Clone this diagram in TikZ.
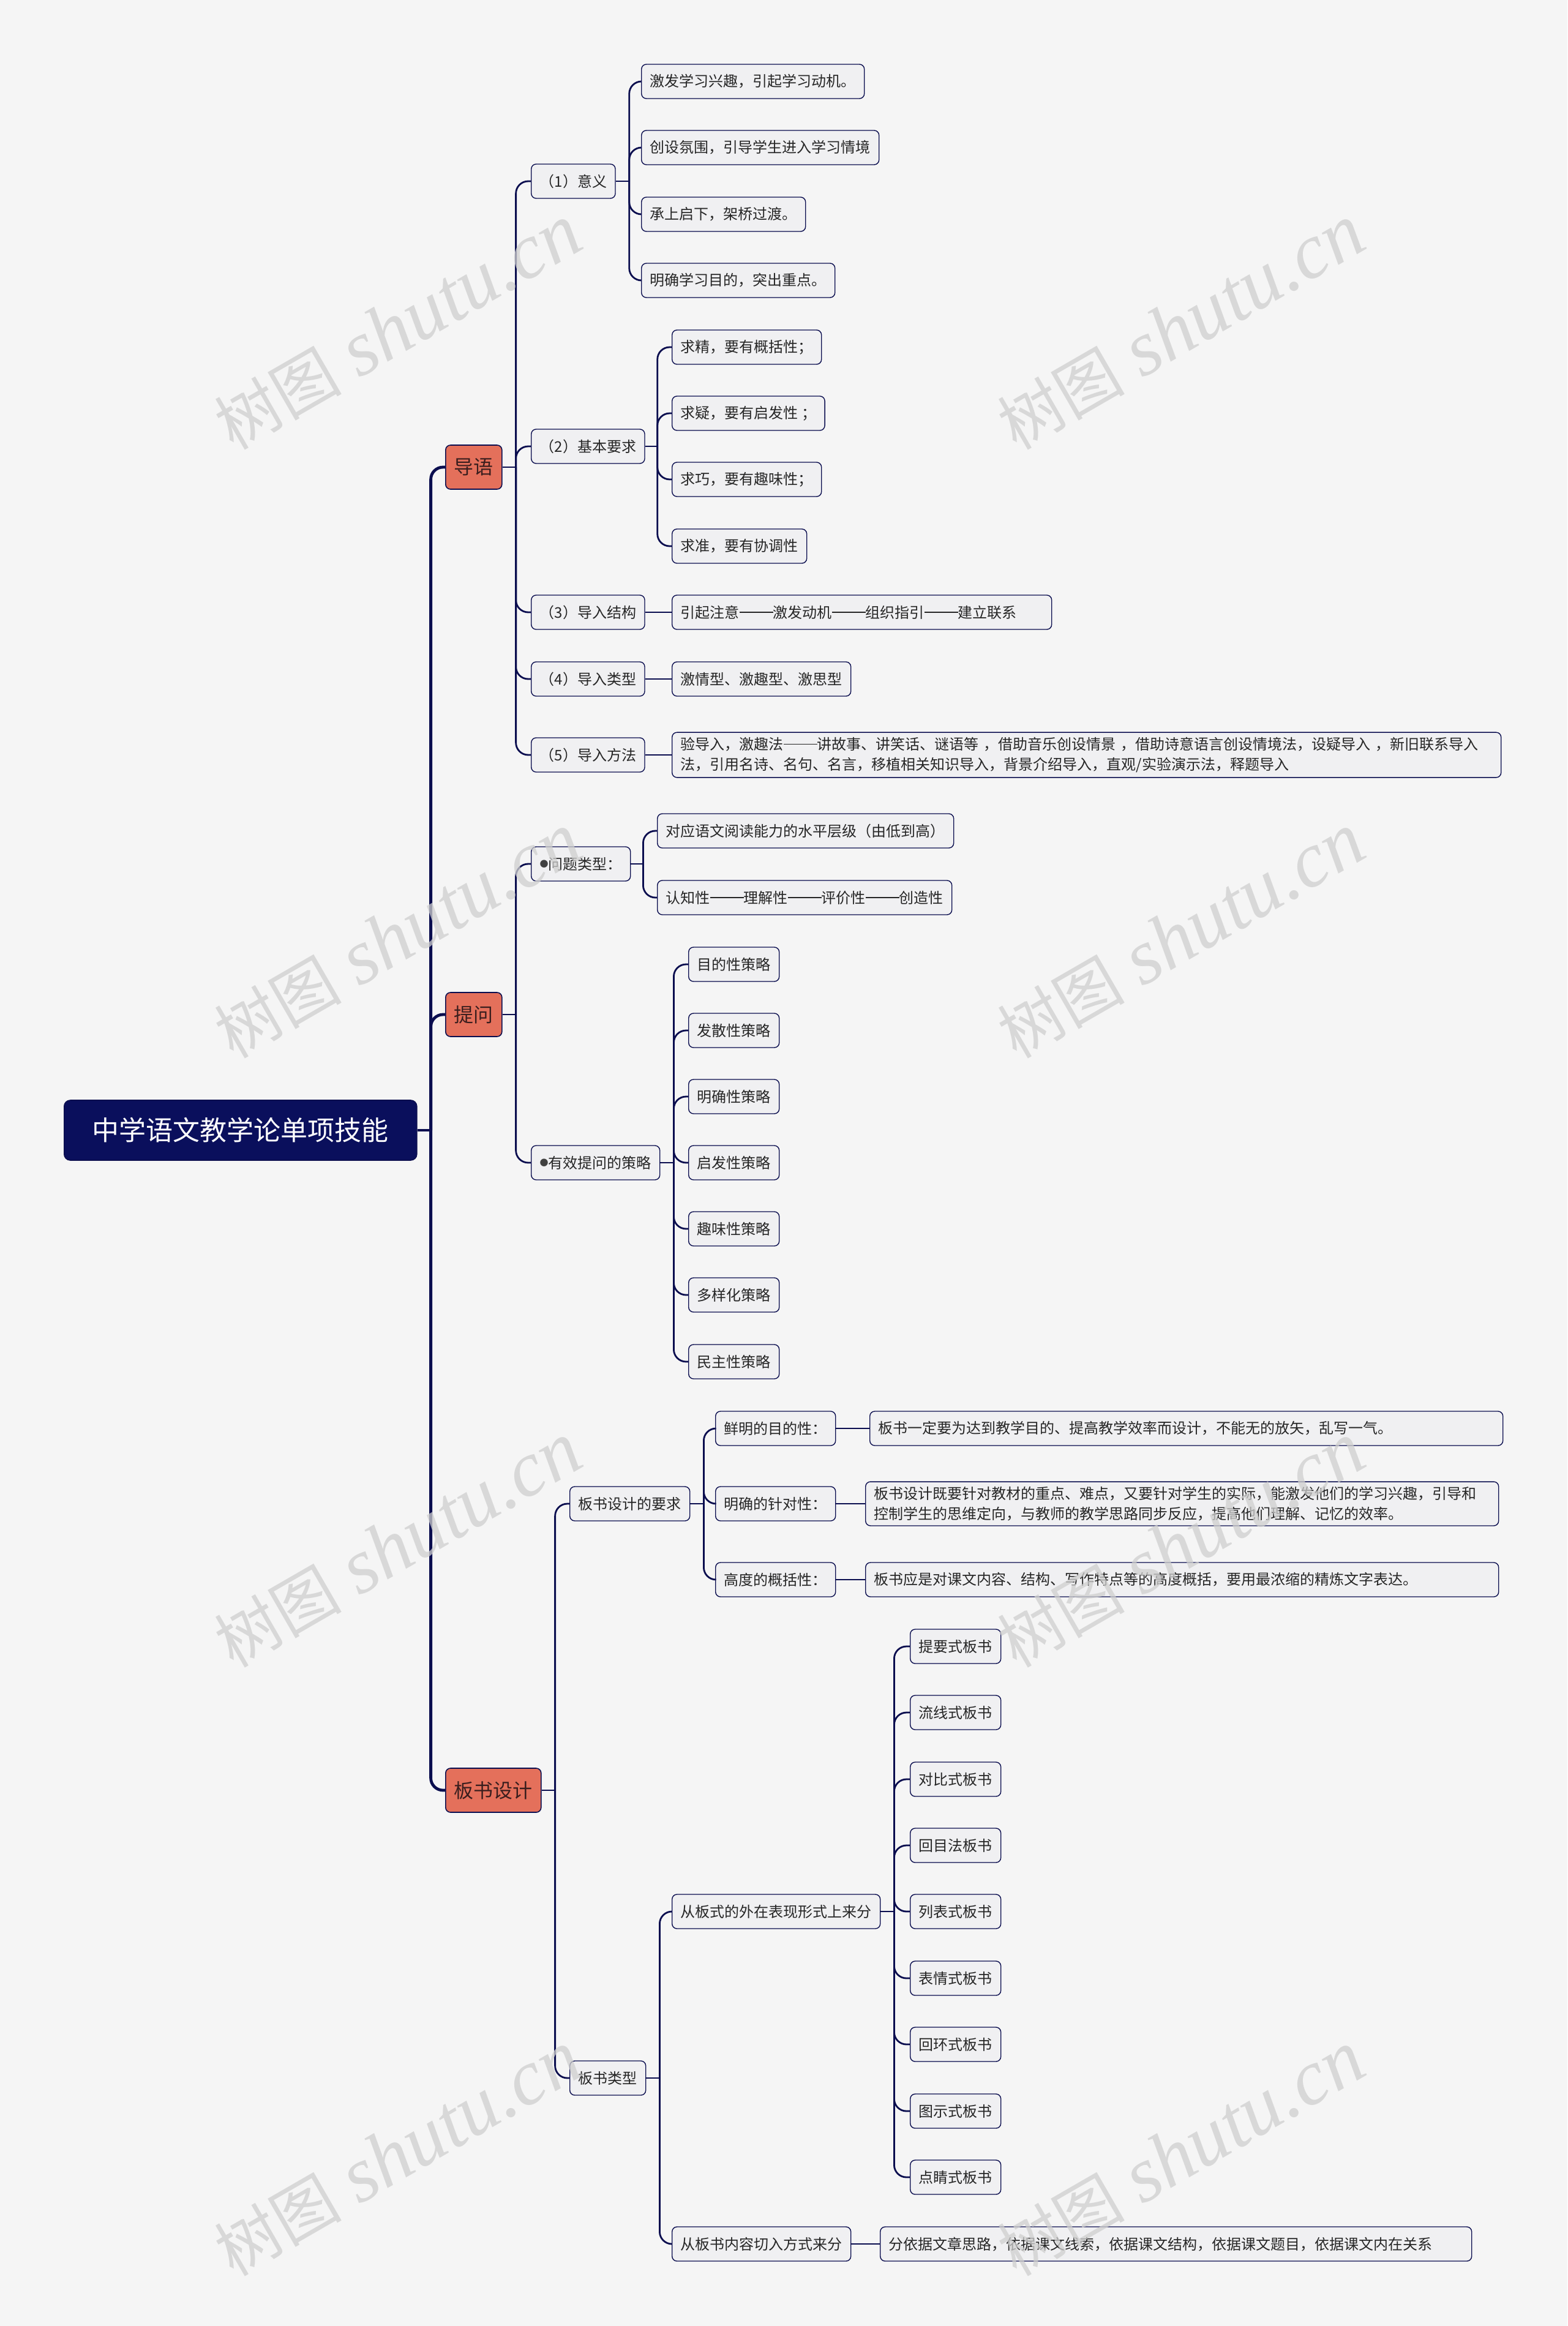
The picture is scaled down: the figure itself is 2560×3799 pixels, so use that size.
\documentclass[tikz,border=0pt]{standalone}
\usepackage{fontspec}
\setmainfont{Noto Sans CJK SC}
\newfontfamily\wmlatin{Liberation Serif}
\usepackage{tikz}
\usepackage{xcolor}
\definecolor{cNavy}{HTML}{0B0E4F}
\definecolor{cRoot}{HTML}{0A0F5C}
\definecolor{cTopic}{HTML}{E4705B}
\definecolor{cTopicTxt}{HTML}{3A1E1E}
\definecolor{cBox}{HTML}{F0F0F2}
\definecolor{cBg}{HTML}{F5F5F5}
\definecolor{cWM}{HTML}{CFCFCF}
\newcommand{\wmark}{{\fontsize{52}{52}\selectfont 树图}\hspace{14pt}{\wmlatin\itshape\fontsize{64}{64}\selectfont shutu.cn}}
\newcommand{\dotmark}{\raisebox{1.6pt}{\fontsize{7}{7}\selectfont\color{black!75}●}}
\newcommand{\dd}{\raisebox{4.2pt}{\rule{27.5pt}{0.7pt}}}

\begin{document}
\begin{tikzpicture}[x=0.5pt, y=-0.5pt,
  root/.style={draw=cNavy, fill=cRoot, text=white, rounded corners=5pt, line width=0.8pt, minimum width=288pt, minimum height=49pt, anchor=west, font=\fontsize{22}{22}\selectfont},
  topic/.style={draw=cNavy, fill=cTopic, text=cTopicTxt, rounded corners=4pt, line width=0.8pt, inner xsep=7pt, minimum height=36pt, anchor=west, font=\fontsize{16}{16}\selectfont},
  sub/.style={draw=cNavy, fill=cBox, text=black!85, rounded corners=4pt, line width=0.7pt, inner xsep=7pt, inner ysep=4pt, minimum height=28pt, anchor=west, align=left, font=\fontsize{12}{16.5}\selectfont},
  conn/.style={draw=cNavy, line width=1.4pt, rounded corners=10pt},
  trunk/.style={conn, line width=2.4pt},
  wm/.style={text=cWM, opacity=0.75, rotate=30, inner sep=0pt}
]
\useasboundingbox (0,0) rectangle (2560,3799);
\fill[cBg] (0,0) rectangle (2560,3799);

\node[root] (root) at (104,1846) {中学语文教学论单项技能};
\node[topic] (intro) at (727,763) {导语};
\node[topic] (ask) at (727,1657) {提问};
\node[topic] (board) at (727,2924) {板书设计};

% 导语
\node[sub] (intro1) at (867,296) {（1）意义};
\node[sub] (intro2) at (867,729) {（2）基本要求};
\node[sub] (intro3) at (867,1000) {（3）导入结构};
\node[sub] (intro4) at (867,1109) {（4）导入类型};
\node[sub] (intro5) at (867,1233) {（5）导入方法};
\node[sub] (mean1) at (1047,133) {激发学习兴趣，引起学习动机。};
\node[sub] (mean2) at (1047,241) {创设氛围，引导学生进入学习情境};
\node[sub] (mean3) at (1047,350) {承上启下，架桥过渡。};
\node[sub] (mean4) at (1047,458) {明确学习目的，突出重点。};
\node[sub] (req1) at (1097,567) {求精，要有概括性；};
\node[sub] (req2) at (1097,675) {求疑，要有启发性 ；};
\node[sub] (req3) at (1097,783) {求巧，要有趣味性；};
\node[sub] (req4) at (1097,892) {求准，要有协调性};
\node[sub, text width=296pt] (struct) at (1097,1000) {引起注意\dd 激发动机\dd 组织指引\dd 建立联系};
\node[sub] (kind) at (1097,1109) {激情型、激趣型、激思型};
\node[sub, text width=663pt] (method) at (1097,1233) {验导入，激趣法\dd 讲故事、讲笑话、谜语等 ，借助音乐创设情景 ，借助诗意语言创设情境法，设疑导入 ，新旧联系导入\\法，引用名诗、名句、名言，移植相关知识导入，背景介绍导入，直观/实验演示法，释题导入};

% 提问
\node[sub] (qtype) at (867,1411) {\dotmark 问题类型：};
\node[sub] (qstrat) at (867,1899) {\dotmark 有效提问的策略};
\node[sub] (level1) at (1073,1357) {对应语文阅读能力的水平层级（由低到高）};
\node[sub] (level2) at (1073,1466) {认知性\dd 理解性\dd 评价性\dd 创造性};
\node[sub] (strat1) at (1124,1575) {目的性策略};
\node[sub] (strat2) at (1124,1683) {发散性策略};
\node[sub] (strat3) at (1124,1791) {明确性策略};
\node[sub] (strat4) at (1124,1899) {启发性策略};
\node[sub] (strat5) at (1124,2007) {趣味性策略};
\node[sub] (strat6) at (1124,2115) {多样化策略};
\node[sub] (strat7) at (1124,2224) {民主性策略};

% 板书设计
\node[sub] (breq) at (930,2456) {板书设计的要求};
\node[sub] (btype) at (930,3394) {板书类型};
\node[sub] (aim) at (1168,2333) {鲜明的目的性：};
\node[sub] (focus) at (1168,2456) {明确的针对性：};
\node[sub] (brief) at (1168,2580) {高度的概括性：};
\node[sub, text width=503pt] (aimD) at (1420,2333) {板书一定要为达到教学目的、提高教学效率而设计，不能无的放矢，乱写一气。};
\node[sub, text width=503pt] (focusD) at (1413,2456) {板书设计既要针对教材的重点、难点，又要针对学生的实际，能激发他们的学习兴趣，引导和\\控制学生的思维定向，与教师的教学思路同步反应，提高他们理解、记忆的效率。};
\node[sub, text width=503pt] (briefD) at (1413,2580) {板书应是对课文内容、结构、写作特点等的高度概括，要用最浓缩的精炼文字表达。};
\node[sub] (form) at (1097,3122) {从板式的外在表现形式上来分};
\node[sub] (entry) at (1097,3665) {从板书内容切入方式来分};
\node[sub, text width=469pt] (entryD) at (1437,3665) {分依据文章思路，依据课文线索，依据课文结构，依据课文题目，依据课文内在关系};
\node[sub] (form1) at (1486,2689) {提要式板书};
\node[sub] (form2) at (1486,2797) {流线式板书};
\node[sub] (form3) at (1486,2906) {对比式板书};
\node[sub] (form4) at (1486,3014) {回目法板书};
\node[sub] (form5) at (1486,3122) {列表式板书};
\node[sub] (form6) at (1486,3231) {表情式板书};
\node[sub] (form7) at (1486,3339) {回环式板书};
\node[sub] (form8) at (1486,3448) {图示式板书};
\node[sub] (form9) at (1486,3556) {点睛式板书};

\draw[trunk] (root.east) -- ++(11pt,0) coordinate (rootJ);
\draw[trunk] (rootJ) |- (intro.west);
\draw[trunk] (rootJ) |- (ask.west);
\draw[trunk] (rootJ) |- (board.west);

\draw[conn] (intro.east) -- ++(11pt,0) coordinate (introJ);
\draw[conn] (introJ) |- (intro1.west);
\draw[conn] (introJ) |- (intro2.west);
\draw[conn] (introJ) |- (intro3.west);
\draw[conn] (introJ) |- (intro4.west);
\draw[conn] (introJ) |- (intro5.west);
\draw[conn] (intro1.east) -- ++(11pt,0) coordinate (meanJ);
\draw[conn] (meanJ) |- (mean1.west);
\draw[conn] (meanJ) |- (mean2.west);
\draw[conn] (meanJ) |- (mean3.west);
\draw[conn] (meanJ) |- (mean4.west);
\draw[conn] (intro2.east) -- ++(10pt,0) coordinate (reqJ);
\draw[conn] (reqJ) |- (req1.west);
\draw[conn] (reqJ) |- (req2.west);
\draw[conn] (reqJ) |- (req3.west);
\draw[conn] (reqJ) |- (req4.west);
\draw[conn] (intro3.east) -- (struct.west);
\draw[conn] (intro4.east) -- (kind.west);
\draw[conn] (intro5.east) -- (method.west);

\draw[conn] (ask.east) -- ++(11pt,0) coordinate (askJ);
\draw[conn] (askJ) |- (qtype.west);
\draw[conn] (askJ) |- (qstrat.west);
\draw[conn] (qtype.east) -- ++(10pt,0) coordinate (qtypeJ);
\draw[conn] (qtypeJ) |- (level1.west);
\draw[conn] (qtypeJ) |- (level2.west);
\draw[conn] (qstrat.east) -- ++(11pt,0) coordinate (qstratJ);
\draw[conn] (qstratJ) |- (strat1.west);
\draw[conn] (qstratJ) |- (strat2.west);
\draw[conn] (qstratJ) |- (strat3.west);
\draw[conn] (qstratJ) |- (strat4.west);
\draw[conn] (qstratJ) |- (strat5.west);
\draw[conn] (qstratJ) |- (strat6.west);
\draw[conn] (qstratJ) |- (strat7.west);

\draw[conn] (board.east) -- ++(11pt,0) coordinate (boardJ);
\draw[conn] (boardJ) |- (breq.west);
\draw[conn] (boardJ) |- (btype.west);
\draw[conn] (breq.east) -- ++(11pt,0) coordinate (breqJ);
\draw[conn] (breqJ) |- (aim.west);
\draw[conn] (breqJ) |- (focus.west);
\draw[conn] (breqJ) |- (brief.west);
\draw[conn] (aim.east) -- (aimD.west);
\draw[conn] (focus.east) -- (focusD.west);
\draw[conn] (brief.east) -- (briefD.west);
\draw[conn] (btype.east) -- ++(11pt,0) coordinate (btypeJ);
\draw[conn] (btypeJ) |- (form.west);
\draw[conn] (btypeJ) |- (entry.west);
\draw[conn] (entry.east) -- (entryD.west);
\draw[conn] (form.east) -- ++(11pt,0) coordinate (formJ);
\draw[conn] (formJ) |- (form1.west);
\draw[conn] (formJ) |- (form2.west);
\draw[conn] (formJ) |- (form3.west);
\draw[conn] (formJ) |- (form4.west);
\draw[conn] (formJ) |- (form5.west);
\draw[conn] (formJ) |- (form6.west);
\draw[conn] (formJ) |- (form7.west);
\draw[conn] (formJ) |- (form8.west);
\draw[conn] (formJ) |- (form9.west);

\node[wm] (wm1) at (650,535) {\wmark};
\node[wm] (wm2) at (1929,535) {\wmark};
\node[wm] (wm3) at (650,1529) {\wmark};
\node[wm] (wm4) at (1929,1529) {\wmark};
\node[wm] (wm5) at (650,2524) {\wmark};
\node[wm] (wm6) at (1929,2524) {\wmark};
\node[wm] (wm7) at (650,3518) {\wmark};
\node[wm] (wm8) at (1929,3518) {\wmark};
\end{tikzpicture}
\end{document}
